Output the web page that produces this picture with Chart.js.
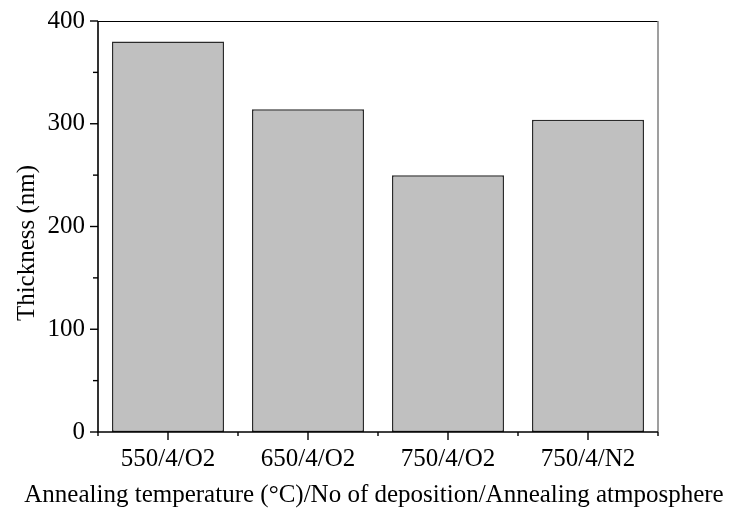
<!DOCTYPE html>
<html>
<head>
<meta charset="utf-8">
<script src="https://cdn.jsdelivr.net/npm/chart.js@4"></script>
<style>
    body { margin: 0; background: #fff; }
    canvas { display: block; }
</style>
</head>
<body>
<canvas id="thicknessChart" width="734" height="516"></canvas>
<script>
/* ================= DATA ================= */
const samples   = ["550/4/O2", "650/4/O2", "750/4/O2", "750/4/N2"];
const thickness = [380, 314, 250, 304];
const yTicks    = [0, 100, 200, 300, 400];

const xTitle = "Annealing temperature (°C)/No of deposition/Annealing atmposphere";
const yTitle = "Thickness (nm)";

/* ================= STYLE ================= */
const serif = "'Liberation Serif', 'Times New Roman', serif";
const fontSize = 25;

/* ================= FRAME + TICKS + TITLES ================= */
// box round the plot, outward major/minor ticks, and the two axis titles
// (titles drawn here because the x title is wider than the plot)
const frameTicks = {
    id: "frameTicks",
    afterDraw(chart) {
        const { ctx, chartArea: a } = chart;
        const xs = chart.scales.x;
        const ys = chart.scales.y;

        ctx.save();
        ctx.lineCap = "butt";

        // top + right
        ctx.strokeStyle = "#000";
        ctx.lineWidth = 1;
        ctx.beginPath();
        ctx.moveTo(a.left, a.top + 0.5);
        ctx.lineTo(a.right, a.top + 0.5);
        ctx.stroke();

        ctx.strokeStyle = "#7f7f7f";
        ctx.lineWidth = 1.5;
        ctx.beginPath();
        ctx.moveTo(a.right, a.top);
        ctx.lineTo(a.right, a.bottom);
        ctx.stroke();

        // left + bottom
        ctx.strokeStyle = "#000";
        ctx.lineWidth = 1.6;
        ctx.beginPath();
        ctx.moveTo(a.left, a.top);
        ctx.lineTo(a.left, a.bottom);
        ctx.lineTo(a.right, a.bottom);
        ctx.stroke();

        // y ticks, major at labelled values
        ctx.lineWidth = 1.4;
        ys.ticks.forEach(t => {
            const y = ys.getPixelForValue(t.value);
            const len = yTicks.includes(t.value) ? 8 : 5;
            ctx.beginPath();
            ctx.moveTo(a.left - len, y);
            ctx.lineTo(a.left, y);
            ctx.stroke();
        });

        // x ticks: major at category centre, minor at boundaries
        samples.forEach((s, i) => {
            const x = xs.getPixelForValue(i);
            ctx.beginPath();
            ctx.moveTo(x, a.bottom);
            ctx.lineTo(x, a.bottom + 8);
            ctx.stroke();
        });
        for (let i = 0; i <= samples.length; i++) {
            const x = xs.getPixelForValue(i - 0.5);
            ctx.beginPath();
            ctx.moveTo(x, a.bottom);
            ctx.lineTo(x, a.bottom + 4);
            ctx.stroke();
        }

        // axis titles
        ctx.fillStyle = "#000";
        ctx.font = fontSize + "px " + serif;
        ctx.textAlign = "center";
        ctx.textBaseline = "alphabetic";
        ctx.fillText(xTitle, (a.left + a.right) / 2 - 4, 502);

        ctx.translate(34, a.top + 222);
        ctx.rotate(-Math.PI / 2);
        ctx.fillText(yTitle, 0, 0);

        ctx.restore();
    }
};

/* ================= CHART ================= */
new Chart(document.getElementById("thicknessChart"), {
    type: "bar",
    data: {
        labels: samples,
        datasets: [{
            data: thickness,
            backgroundColor: "#c0c0c0",
            borderColor: "#2b2b2b",
            borderWidth: 1.5,
            borderSkipped: false,
            categoryPercentage: 1,
            barPercentage: 0.8
        }]
    },
    options: {
        responsive: false,
        animation: false,
        devicePixelRatio: 1,
        layout: { padding: { left: 0, top: 21, right: 76, bottom: 0 } },
        plugins: {
            legend: { display: false },
            tooltip: { enabled: false }
        },
        scales: {
            x: {
                grid: { display: false, drawTicks: false },
                border: { display: false },
                ticks: {
                    color: "#000",
                    padding: 12,
                    maxRotation: 0,
                    font: { family: serif, size: fontSize }
                },
                afterFit(scale) {
                    scale.height = 84;
                    scale.paddingLeft = 0;
                    scale.paddingRight = 0;
                }
            },
            y: {
                min: 0,
                max: 400,
                grid: { display: false, drawTicks: false },
                border: { display: false },
                ticks: {
                    stepSize: 50,
                    color: "#000",
                    padding: 13,
                    font: { family: serif, size: fontSize },
                    callback: v => yTicks.includes(v) ? v : ""
                },
                afterFit(scale) {
                    scale.width = 98;
                    scale.paddingTop = 0;
                    scale.paddingBottom = 0;
                }
            }
        }
    },
    plugins: [frameTicks]
});
</script>
</body>
</html>
